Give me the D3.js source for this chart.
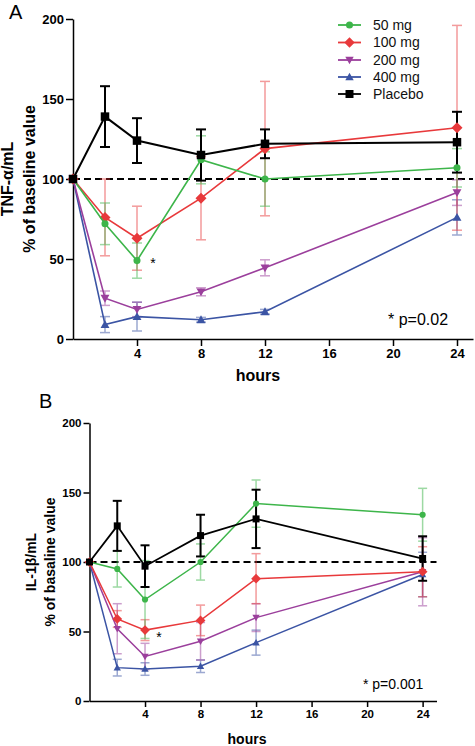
<!DOCTYPE html>
<html>
<head>
<meta charset="utf-8">
<script src="https://cdn.jsdelivr.net/npm/d3@7"></script>
<style>
  html, body { margin: 0; padding: 0; background: #fff; }
  svg { display: block; font-family: "Liberation Sans", Arial, sans-serif; }
</style>
</head>
<body>
<svg id="chart" width="475" height="746"></svg>
<script>
// ---------- DATA ----------
const hours = [0, 2, 4, 8, 12, 24];
const xTicks = [4, 8, 12, 16, 20, 24];
const yTicks = [0, 50, 100, 150, 200];
const seriesNames = ["50 mg", "100 mg", "200 mg", "400 mg", "Placebo"];
const seriesColors = ["#3db54a", "#e8393b", "#9b3f9c", "#3b54a4", "#000000"];
const seriesShapes = ["circle", "diamond", "triDown", "triUp", "square"];

// Panel A: TNF-alpha (% of baseline)
const tnf50 = [100, 72, 49, 112, 100, 107];
const tnf50Err = [0, 13, 11, 15, 17, 12];
const tnf100 = [100, 76, 63, 88, 119, 132];
const tnf100Err = [0, 24, 20, 26, 42, 64];
const tnf200 = [100, 25.5, 18.5, 29.5, 44.5, 91.5];
const tnf200Err = [0, 4.5, 4.5, 2.5, 5, 8];
const tnf400 = [100, 9, 14, 12, 17, 76];
const tnf400Err = [0, 5, 9, 1.5, 1.5, 11];
const tnfPlacebo = [100, 139, 124, 115, 122, 123];
const tnfPlaceboErr = [0, 19, 14, 16, 9, 19];

// Panel B: IL-1beta (% of baseline)
const il50 = [100, 95, 73, 100, 142, 134];
const il50Err = [0, 13, 28, 13, 17, 19];
const il100 = [100, 59, 51, 58, 88, 93];
const il100Err = [0, 6, 7.5, 11, 18, 18];
const il200 = [100, 52, 32, 43, 60, 93];
const il200Err = [0, 18, 9.5, 13.5, 10, 24.5];
const il400 = [100, 24, 23, 25, 42, 91];
const il400Err = [0, 6, 4.5, 4.5, 9, 16];
const ilPlacebo = [100, 126, 97, 119, 131, 102.5];
const ilPlaceboErr = [0, 18, 15, 15, 21, 16];

// ---------- DRAWING ----------
const svg = d3.select("#chart");
const FONT = '"Liberation Sans", Arial, sans-serif';

function shapePath(shape, s) {
  const r = s / 2;
  switch (shape) {
    case "circle": return d3.symbol(d3.symbolCircle, Math.PI * r * r * 0.78)();
    case "square": return `M${-r},${-r}H${r}V${r}H${-r}Z`;
    case "diamond": { const d = r * 1.3; return `M0,${-d}L${d},0L0,${d}L${-d},0Z`; }
    case "triUp": return `M0,${-r * 1.05}L${r * 1.05},${r * 0.8}L${-r * 1.05},${r * 0.8}Z`;
    case "triDown": return `M0,${r * 1.05}L${r * 1.05},${-r * 0.8}L${-r * 1.05},${-r * 0.8}Z`;
  }
}

function drawPanel(cfg) {
  const g = svg.append("g");
  const x = d3.scaleLinear().domain([0, 25]).range(cfg.xRange);
  const y = d3.scaleLinear().domain([0, 200]).range(cfg.yRange);

  // axes
  const ya = g.append("g").attr("transform", `translate(${cfg.xRange[0]},0)`)
    .call(d3.axisLeft(y).tickValues(yTicks).tickSize(cfg.tick).tickSizeOuter(0).tickPadding(2));
  const xa = g.append("g").attr("transform", `translate(0,${cfg.yRange[0]})`)
    .call(d3.axisBottom(x).tickValues(xTicks).tickSize(cfg.tick).tickSizeOuter(0).tickPadding(3));
  [ya, xa].forEach(a => {
    a.selectAll("path, line").attr("stroke", "#000").attr("stroke-width", 1.5);
    a.selectAll("text").attr("fill", "#000").attr("font-family", FONT)
      .attr("font-weight", "bold").attr("font-size", cfg.tickFont);
  });

  // baseline dashed line at 100
  g.append("line")
    .attr("x1", x(0)).attr("x2", x(25)).attr("y1", y(100)).attr("y2", y(100))
    .attr("stroke", "#000").attr("stroke-width", 2).attr("stroke-dasharray", "7,4");

  const order = [3, 2, 1, 0, 4];
  // error bars
  order.forEach(i => {
    const vals = cfg.data[i], errs = cfg.errs[i];
    const isBlack = i === 4;
    const eg = g.append("g")
      .attr("stroke", seriesColors[i])
      .attr("stroke-width", isBlack ? 2 : 1.5)
      .attr("opacity", isBlack ? 1 : 0.5);
    hours.forEach((h, k) => {
      if (!errs[k]) return;
      const cx = x(h), top = y(vals[k] + errs[k]), bot = y(vals[k] - errs[k]);
      eg.append("line").attr("x1", cx).attr("x2", cx).attr("y1", top).attr("y2", bot);
      eg.append("line").attr("x1", cx - cfg.cap).attr("x2", cx + cfg.cap).attr("y1", top).attr("y2", top);
      eg.append("line").attr("x1", cx - cfg.cap).attr("x2", cx + cfg.cap).attr("y1", bot).attr("y2", bot);
    });
  });

  // lines and markers
  const line = d3.line().x((d, k) => x(hours[k])).y(d => y(d));
  order.forEach(i => {
    const isBlack = i === 4;
    g.append("path").datum(cfg.data[i])
      .attr("d", line).attr("fill", "none")
      .attr("stroke", seriesColors[i]).attr("stroke-width", isBlack ? cfg.blackLW : cfg.lw);
    g.append("g").selectAll("path").data(cfg.data[i]).join("path")
      .attr("transform", (d, k) => `translate(${x(hours[k])},${y(d)})`)
      .attr("d", shapePath(seriesShapes[i], cfg.ms[i]))
      .attr("fill", seriesColors[i]);
  });

  // y label (two lines)
  cfg.ylabel.forEach((t, j) => {
    g.append("text")
      .attr("transform", `translate(${cfg.ylabelX[j]},${(cfg.yRange[0] + cfg.yRange[1]) / 2}) rotate(-90)`)
      .attr("text-anchor", "middle")
      .attr("font-family", FONT).attr("font-weight", "bold").attr("font-size", cfg.labelFont)
      .html(t);
  });

  // x label
  g.append("text").attr("x", cfg.hoursX).attr("y", cfg.hoursY)
    .attr("text-anchor", "middle").attr("font-family", FONT).attr("font-weight", "bold")
    .attr("font-size", cfg.hoursFont).text("hours");

  // panel letter
  g.append("text").attr("x", cfg.letterPos[0]).attr("y", cfg.letterPos[1])
    .attr("font-family", FONT).attr("font-size", 20).text(cfg.letter);

  // significance annotations
  g.append("text").attr("x", cfg.starPos[0]).attr("y", cfg.starPos[1])
    .attr("font-family", FONT).attr("font-size", 14).attr("text-anchor", "middle").text("*");
  g.append("text").attr("x", cfg.pPos[0]).attr("y", cfg.pPos[1])
    .attr("font-family", FONT).attr("font-size", cfg.pFont).text(cfg.pText);

  return { x, y };
}

drawPanel({
  xRange: [73, 473], yRange: [339, 19], tick: 7, tickFont: 13,
  cap: 5, lw: 1.6, blackLW: 2, ms: [8, 8.5, 8.5, 8.5, 8.5],
  data: [tnf50, tnf100, tnf200, tnf400, tnfPlacebo],
  errs: [tnf50Err, tnf100Err, tnf200Err, tnf400Err, tnfPlaceboErr],
  ylabel: ['TNF-α/mL', '% of baseline value'], ylabelX: [13, 35], labelFont: 16,
  hoursX: 258, hoursY: 381, hoursFont: 16,
  letter: "A", letterPos: [9, 19],
  starPos: [153, 268], pPos: [388, 325], pFont: 16, pText: "* p=0.02"
});

drawPanel({
  xRange: [89.5, 436.5], yRange: [701, 423], tick: 6, tickFont: 11.5,
  cap: 4.5, lw: 1.5, blackLW: 1.8, ms: [7, 7.5, 7, 7, 7],
  data: [il50, il100, il200, il400, ilPlacebo],
  errs: [il50Err, il100Err, il200Err, il400Err, ilPlaceboErr],
  ylabel: ['IL-1β/mL', '% of basaline value'], ylabelX: [36, 55], labelFont: 14,
  hoursX: 247, hoursY: 744, hoursFont: 14,
  letter: "B", letterPos: [39, 408],
  starPos: [159, 642], pPos: [363, 689], pFont: 14, pText: "* p=0.001"
});

// legend (panel A)
const legY = [25, 42.5, 60, 77, 94];
const leg = svg.append("g");
seriesNames.forEach((name, i) => {
  leg.append("line").attr("x1", 338).attr("x2", 361).attr("y1", legY[i]).attr("y2", legY[i])
    .attr("stroke", seriesColors[i]).attr("stroke-width", 1.8);
  leg.append("path").attr("transform", `translate(349.5,${legY[i]})`)
    .attr("d", shapePath(seriesShapes[i], 8)).attr("fill", seriesColors[i]);
  leg.append("text").attr("x", 373).attr("y", legY[i]).attr("dy", "0.35em")
    .attr("font-family", FONT).attr("font-size", 14).attr("fill", "#111").text(name);
});
</script>
</body>
</html>
